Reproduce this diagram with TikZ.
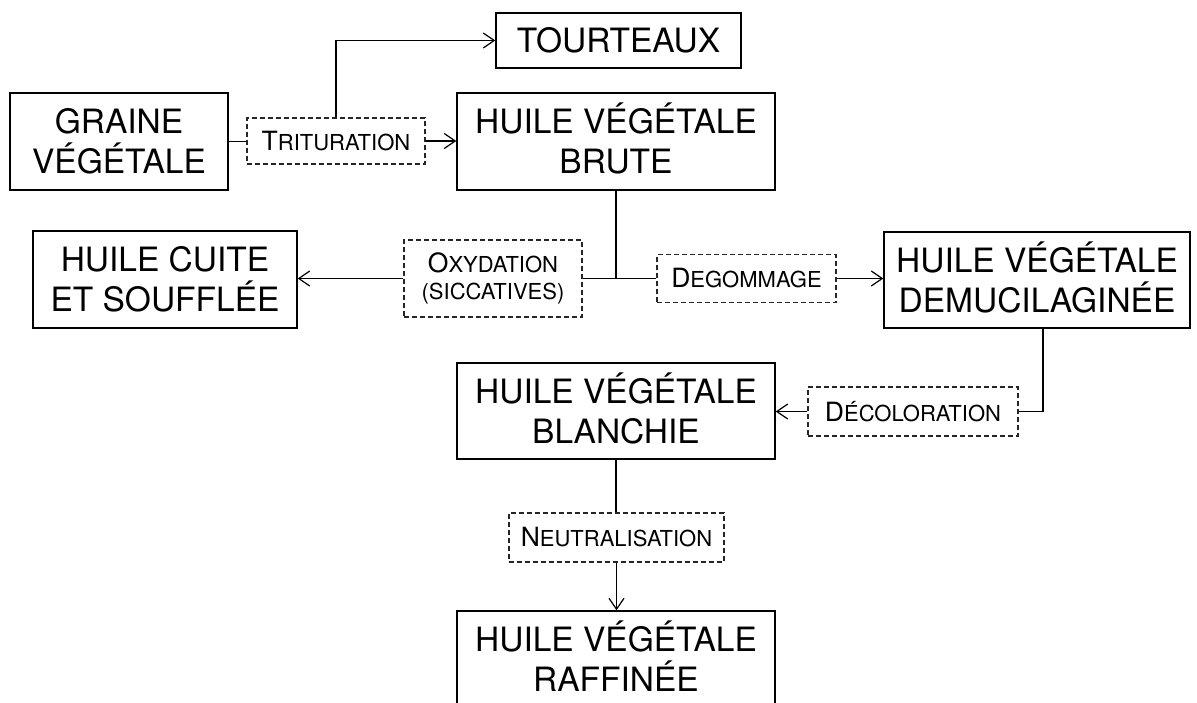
\documentclass[tikz,border=0pt]{standalone}
\usepackage{fontspec}
\setmainfont{TeX Gyre Heros}
\usetikzlibrary{arrows.meta}
\newcommand\mysc[2]{{\fontsize{26.5}{30}\selectfont #1}{\fontsize{22}{30}\selectfont #2}}
\newcommand\topstrut{\rule{0pt}{32pt}}
\newcommand\botstrut{\rule[-8pt]{0pt}{8pt}}
\begin{document}
\begin{tikzpicture}[x=1pt,y=-1pt,
  stage/.style={draw, line width=1.4pt, inner sep=0pt, align=center, font=\fontsize{33.5}{40}\selectfont},
  proc/.style={draw=black!85, dash pattern=on 5pt off 3pt, line width=1.2pt, inner sep=0pt, align=center, font=\fontsize{22}{27}\selectfont},
  link/.style={line width=1.4pt},
  arr/.style={line width=1.2pt, -{Straight Barb[length=11pt,width=15pt,line width=1.2pt]}}]
\useasboundingbox (0,0) rectangle (1197,702);
\clip (0,0) rectangle (1197,702);

\node[stage, minimum width=218pt, minimum height=97pt] (graine) at (119,141.5) {\topstrut GRAINE\\VÉGÉTALE\botstrut};
\node[proc, minimum width=178pt, minimum height=46pt] (trit) at (336,141) {\mysc{T}{RITURATION}};
\node[stage, minimum width=318pt, minimum height=97pt] (brute) at (616,141.5) {\topstrut HUILE VÉGÉTALE\\BRUTE\botstrut};
\node[stage, minimum width=245pt, minimum height=55pt] (tourt) at (618.5,40.5) {TOURTEAUX};
\node[stage, minimum width=264pt, minimum height=97pt] (cuite) at (165,279.5) {\topstrut HUILE CUITE\\ET SOUFFLÉE\botstrut};
\node[proc, minimum width=178pt, minimum height=77pt] (oxy) at (493,278.5) {\mysc{O}{XYDATION}\\\mysc{}{(SICCATIVES)}};
\node[proc, minimum width=179pt, minimum height=48pt] (degom) at (746.5,278.5) {\mysc{D}{EGOMMAGE}};
\node[stage, minimum width=306pt, minimum height=96pt] (demu) at (1037,280) {\topstrut HUILE VÉGÉTALE\\DEMUCILAGINÉE\botstrut};
\node[proc, minimum width=210pt, minimum height=49pt] (decol) at (913,411.5) {\mysc{D}{ÉCOLORATION}};
\node[stage, minimum width=318pt, minimum height=96pt] (blanchie) at (616,411) {\topstrut HUILE VÉGÉTALE\\BLANCHIE\botstrut};
\node[proc, minimum width=215pt, minimum height=49pt] (neutr) at (616.5,537.5) {\mysc{N}{EUTRALISATION}};
\node[stage, minimum width=318pt, minimum height=97pt] (raff) at (616,659.5) {\topstrut HUILE VÉGÉTALE\\RAFFINÉE\botstrut};

\draw[link] (graine.east) -- (graine.east -| trit.west);
\draw[arr] (trit.east) -- (trit.east -| brute.west);
\draw[arr] (trit.north) |- (tourt.west);
\coordinate (j) at (brute.south |- oxy.east);
\draw[link] (brute.south) -- (j);
\draw[link] (oxy.east) -- (degom.west);
\draw[arr] (oxy.west) -- (oxy.west -| cuite.east);
\draw[arr] (degom.east) -- (degom.east -| demu.west);
\draw[link] ([xshift=6pt]demu.south) |- (decol.east);
\draw[arr] (decol.west) -- (decol.west -| blanchie.east);
\draw[link] (blanchie.south) -- (blanchie.south |- neutr.north);
\draw[arr] (neutr.south) -- (neutr.south |- raff.north);
\end{tikzpicture}
\end{document}
